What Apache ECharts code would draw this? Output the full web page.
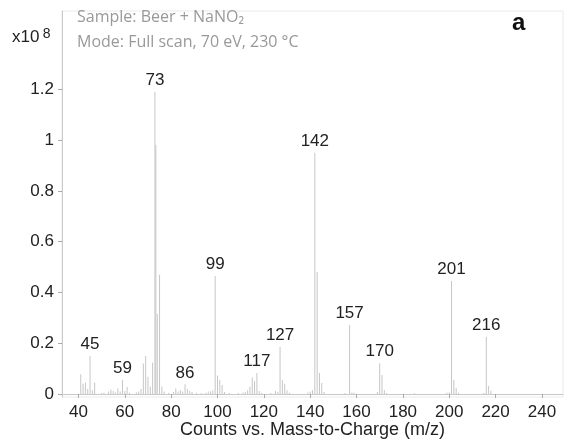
<!DOCTYPE html>
<html>
<head>
<meta charset="utf-8">
<script src="https://cdn.jsdelivr.net/npm/echarts@6/dist/echarts.min.js"></script>
<style>html,body{margin:0;padding:0;background:#fff;}#chart{width:568px;height:442px;}</style>
</head>
<body>
<div id="chart"></div>
<script>
// m/z values and abundances (x10^8 counts)
const mz = [41,42,43,44,45,46,47,50,51,53,54,55,56,57,58,59,60,61,62,65,66,67,68,69,70,71,72,73,73.4,74,75,76,77,79,81,82,83,84,85,86,87,88,89,91,93,95,96,97,98,99,100,101,102,103,105,109,111,112,113,114,115,116,117,118,119,123,125,126,127,128,129,130,131,139,140,141,142,143,144,145,146,155,157,158,159,169,170,171,172,173,185,199,200,201,202,203,204,215,216,217,218];
const abundance = [0.078,0.04,0.045,0.02,0.15,0.015,0.045,0.004,0.005,0.01,0.018,0.012,0.006,0.022,0.01,0.055,0.012,0.028,0.005,0.006,0.01,0.02,0.12,0.15,0.068,0.03,0.124,1.19,0.98,0.315,0.47,0.03,0.01,0.005,0.008,0.022,0.01,0.016,0.01,0.038,0.02,0.012,0.008,0.005,0.004,0.005,0.01,0.01,0.014,0.465,0.073,0.055,0.035,0.008,0.004,0.004,0.006,0.008,0.015,0.03,0.065,0.05,0.083,0.012,0.004,0.004,0.012,0.008,0.185,0.055,0.04,0.015,0.005,0.006,0.01,0.015,0.95,0.48,0.083,0.043,0.008,0.004,0.272,0.006,0.005,0.008,0.121,0.075,0.016,0.004,0.003,0.005,0.006,0.445,0.055,0.024,0.005,0.004,0.224,0.032,0.013];
const labeledPeaks = [45,59,73,86,99,117,127,142,157,170,201,216];
const xTicks = [40,60,80,100,120,140,160,180,200,220,240];
const yTicks = [0,0.2,0.4,0.6,0.8,1,1.2];

const seriesData = mz.map((m, i) => {
  const item = { value: [m, abundance[i]] };
  if (labeledPeaks.indexOf(m) >= 0) {
    item.label = { show: true, formatter: String(m) };
  }
  return item;
});

const chart = echarts.init(document.getElementById('chart'));
const txt = '#222';
chart.setOption({
  animation: false,
  backgroundColor: '#fff',
  grid: { left: 62, right: 5, top: 11, bottom: 45, show: true, borderColor: '#ebebeb', borderWidth: 1,
          containLabel: false, outerBoundsMode: 'none' },
  xAxis: {
    type: 'value', min: 32.9, max: 249.1,
    axisLine: { show: true, lineStyle: { color: '#c8c8c8' } },
    axisTick: { show: true, length: 4, customValues: xTicks, lineStyle: { color: '#aaa' } },
    axisLabel: { customValues: xTicks, margin: 7, fontSize: 17, color: txt, fontFamily: 'Liberation Sans' },
    splitLine: { show: false },
    name: 'Counts vs. Mass-to-Charge (m/z)', nameLocation: 'middle', nameGap: 24, nameMoveOverlap: false,
    nameTextStyle: { fontSize: 18, color: txt, fontFamily: 'Liberation Sans' }
  },
  yAxis: {
    type: 'value', min: -0.0118, max: 1.508,
    axisLine: { show: true, lineStyle: { color: '#c8c8c8' } },
    axisTick: { show: true, length: 4, customValues: yTicks, lineStyle: { color: '#aaa' } },
    axisLabel: { customValues: yTicks, margin: 8, fontSize: 17, color: txt, fontFamily: 'Liberation Sans',
      formatter: v => String(+v.toFixed(1)) },
    splitLine: { show: false }
  },
  graphic: [
    { type: 'text', left: 12, top: 27, style: { text: '{a|x10} {b|8}', rich: {
        a: { fontSize: 17, fill: txt, fontFamily: 'Liberation Sans' },
        b: { fontSize: 14, fill: txt, fontFamily: 'Liberation Sans', padding: [0, 0, 6, 0] } } } },
    { type: 'text', left: 77, top: 9, style: { text: 'Sample: Beer + NaNO₂', fontSize: 16, fill: '#999', fontFamily: 'Open Sans' } },
    { type: 'text', left: 77, top: 34, style: { text: 'Mode: Full scan, 70 eV, 230 °C', fontSize: 16, fill: '#999', fontFamily: 'Open Sans' } },
    { type: 'text', left: 512, top: 11, style: { text: 'a', fontSize: 24, fontWeight: 'bold', fill: '#111', fontFamily: 'Liberation Sans' } }
  ],
  series: [{
    type: 'bar', barWidth: 1, data: seriesData,
    itemStyle: { color: '#c6c6c6' },
    label: { show: false, position: 'top', distance: 3, fontSize: 17, color: txt, fontFamily: 'Liberation Sans' }
  }]
});
</script>
</body>
</html>
